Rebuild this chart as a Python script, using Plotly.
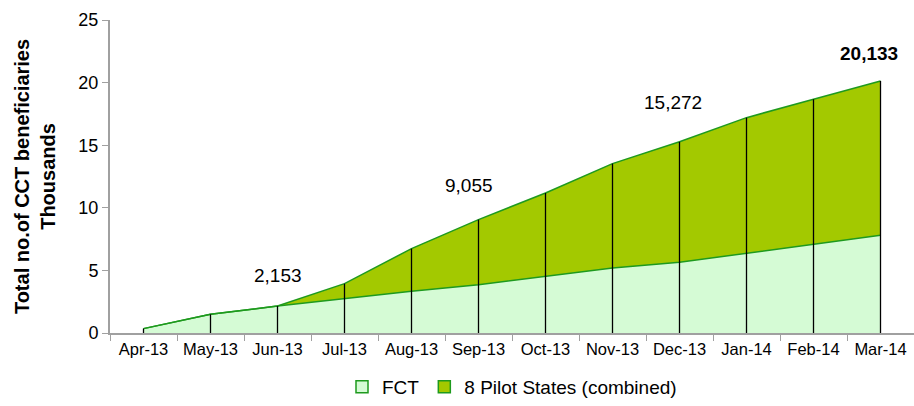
import plotly.graph_objects as go

months = ["Apr-13", "May-13", "Jun-13", "Jul-13", "Aug-13", "Sep-13",
          "Oct-13", "Nov-13", "Dec-13", "Jan-14", "Feb-14", "Mar-14"]
fct = [0.35, 1.49, 2.153, 2.75, 3.33, 3.86, 4.50, 5.19, 5.65, 6.37, 7.03, 7.80]
pilot = [0.0, 0.0, 0.0, 1.19, 3.41, 5.195, 6.68, 8.34, 9.622, 10.83, 11.64, 12.333]
label_months = ["Jun-13", "Sep-13", "Dec-13", "Mar-14"]
y_ticks = [0, 5, 10, 15, 20, 25]

totals = [a + b for a, b in zip(fct, pilot)]

FONT = "Liberation Sans, Arial, Helvetica, sans-serif"
line_green = "#1e9a1e"
fct_fill = "#d5fbd5"
pilot_fill = "#a3c900"

fig = go.Figure()
fig.add_trace(go.Scatter(
    x=months, y=fct, name="FCT", stackgroup="one",
    mode="lines", line=dict(color=line_green, width=1.5),
    fillcolor=fct_fill, showlegend=False))
fig.add_trace(go.Scatter(
    x=months, y=pilot, name="8 Pilot States (combined)", stackgroup="one",
    mode="lines", line=dict(color=line_green, width=1.5),
    fillcolor=pilot_fill, showlegend=False))

# drop lines from axis to the stack top
fig.add_trace(go.Scatter(
    x=months, y=[0] * len(months), mode="markers",
    marker=dict(size=0.1, color="rgba(0,0,0,0)"),
    error_y=dict(type="data", symmetric=False, array=totals,
                 arrayminus=[0] * len(months), color="black",
                 thickness=1.3, width=0),
    showlegend=False, hoverinfo="skip"))

# legend entries (square swatches)
for name, col in [("FCT", fct_fill), ("8 Pilot States (combined)", pilot_fill)]:
    fig.add_trace(go.Bar(x=[None], y=[None], name=name,
                         marker=dict(color=col, line=dict(color=line_green, width=1.5))))

shifts = [31, 34, 39, 27]
xshifts = [0, -10, -7, -12]
for m, ys, xs in zip(label_months, shifts, xshifts):
    i = months.index(m)
    v = totals[i]
    txt = f"{v * 1000:,.0f}"
    if m == "Mar-14":
        txt = f"<b>{txt}</b>"
    fig.add_annotation(x=m, y=v, text=txt, showarrow=False,
                       yshift=ys, xshift=xs, yanchor="middle",
                       font=dict(size=19, color="black", family=FONT))

fig.update_layout(
    width=914, height=406,
    margin=dict(l=110, r=0, t=20, b=73),
    plot_bgcolor="white", paper_bgcolor="white",
    font=dict(family=FONT, color="black"),
    showlegend=True,
    legend=dict(orientation="h", x=0.5, xanchor="center",
                yref="container", y=-0.017, yanchor="bottom",
                font=dict(size=19), traceorder="normal",
                bgcolor="rgba(0,0,0,0)", itemwidth=30),
)
fig.update_xaxes(
    type="category", range=[-0.5, 11.5], tickson="boundaries",
    ticks="outside", ticklen=6, tickcolor="#a0a0a0",
    showline=True, linecolor="#a0a0a0", linewidth=2, automargin=False,
    tickfont=dict(size=16.5), showgrid=False, zeroline=False)
fig.update_yaxes(
    range=[0, 25], tickvals=y_ticks, ticks="outside", ticklen=6,
    tickcolor="#a0a0a0", showline=True, linecolor="#a0a0a0", linewidth=2,
    tickfont=dict(size=18), showgrid=False, zeroline=False, automargin=False,
    title=dict(text="<b>Total no.of CCT beneficiaries<br>Thousands</b>",
               font=dict(size=20), standoff=17))

fig.write_html("out.html", config={"displayModeBar": False},
               post_script="document.body.style.margin='0';document.body.style.overflow='hidden';")
